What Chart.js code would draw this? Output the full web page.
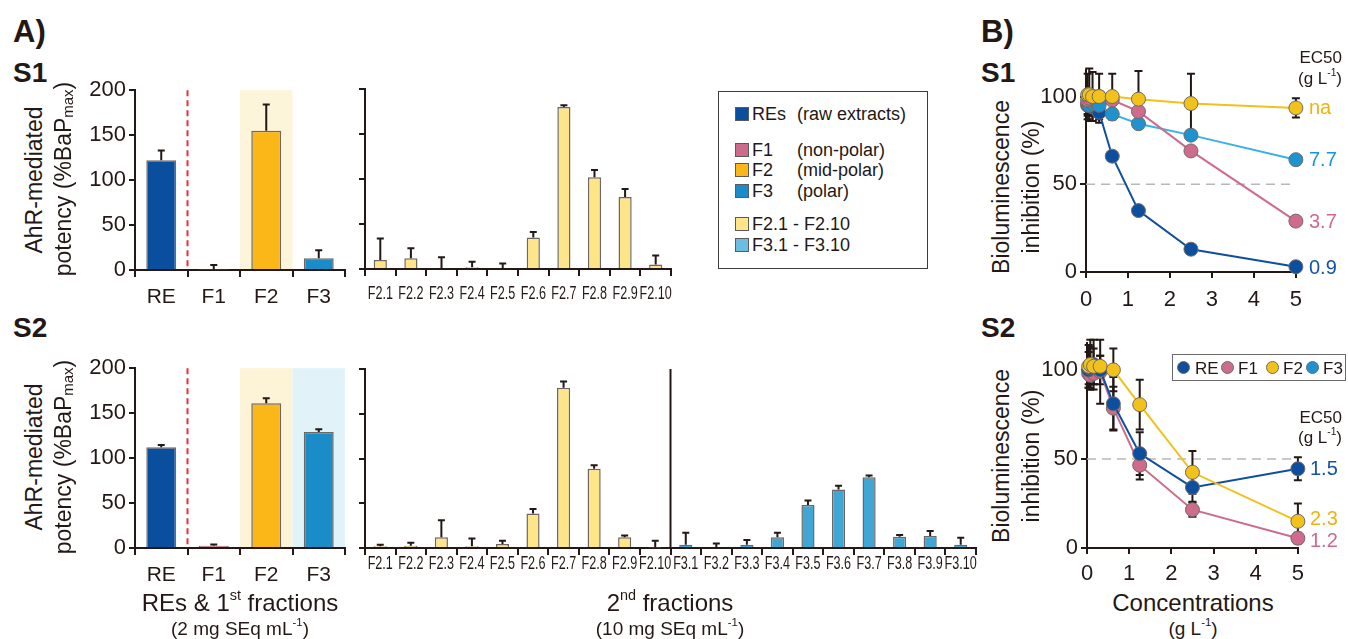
<!DOCTYPE html>
<html>
<head>
<meta charset="utf-8">
<script src="https://cdn.jsdelivr.net/npm/chart.js@4.4.1/dist/chart.umd.min.js"></script>
<style>
  body { margin: 0; width: 1348px; height: 639px; background: #fff; position: relative; overflow: hidden;
         font-family: "Liberation Sans", Arial, sans-serif; color: #231815; }
  canvas { position: absolute; }
  .t { position: absolute; white-space: nowrap; line-height: 1; }
  .b { font-weight: bold; }
  .r { position: absolute; white-space: nowrap; line-height: 1; transform: translate(-50%, -50%) rotate(-90deg); }
  .c { position: absolute; white-space: nowrap; line-height: 1; transform: translate(-50%, -50%); }
  .l { position: absolute; white-space: nowrap; line-height: 1; transform: translateY(-50%); }
  .rr { position: absolute; white-space: nowrap; line-height: 1; transform: translateY(-50%); text-align: right; }
  .sw { position: absolute; width: 14px; height: 14px; box-sizing: border-box; border: 1px solid #5a5a5a; }
  .dot { position: absolute; width: 13px; height: 13px; box-sizing: border-box; border: 1px solid #6a6a6a; border-radius: 50%; }
  sup { font-size: 0.6em; line-height: 0; vertical-align: 0.75em; }
  sub { font-size: 0.65em; line-height: 0; vertical-align: -0.2em; }
</style>
</head>
<body>

<canvas id="s1First" width="290" height="236" style="left:60px;top:74px"></canvas>
<canvas id="s1Second" width="321" height="230" style="left:355px;top:79px"></canvas>
<canvas id="s2First" width="290" height="236" style="left:60px;top:352px"></canvas>
<canvas id="s2Second" width="626" height="229" style="left:355px;top:359px"></canvas>
<canvas id="s1Curve" width="281" height="258" style="left:1030px;top:54px"></canvas>
<canvas id="s2Curve" width="280" height="261" style="left:1031px;top:327px"></canvas>

<!-- panel letters -->
<div class="t b" style="left:13px;top:16px;font-size:31px">A)</div>
<div class="t b" style="left:13px;top:59px;font-size:28px">S1</div>
<div class="t b" style="left:13px;top:314px;font-size:28px">S2</div>
<div class="t b" style="left:981px;top:16px;font-size:31px">B)</div>
<div class="t b" style="left:981px;top:59px;font-size:28px">S1</div>
<div class="t b" style="left:981px;top:314px;font-size:28px">S2</div>

<!-- axis titles A -->
<div class="r" style="left:34px;top:180px;font-size:23px">AhR-mediated</div>
<div class="r" style="left:63px;top:179px;font-size:23px">potency (%BaP<sub>max</sub>)</div>
<div class="r" style="left:34px;top:457px;font-size:23px">AhR-mediated</div>
<div class="r" style="left:63px;top:457px;font-size:23px">potency (%BaP<sub>max</sub>)</div>
<div class="c" style="left:240px;top:603px;font-size:24px">REs &amp; 1<sup>st</sup> fractions</div>
<div class="c" style="left:240px;top:628px;font-size:19px">(2 mg SEq mL<sup>-1</sup>)</div>
<div class="c" style="left:670px;top:603px;font-size:24px">2<sup>nd</sup> fractions</div>
<div class="c" style="left:670px;top:628px;font-size:19px">(10 mg SEq mL<sup>-1</sup>)</div>

<!-- legend A -->
<div style="position:absolute;left:718px;top:91px;width:208px;height:176px;border:1px solid #3c3c3c"></div>
<div class="sw" style="left:735px;top:107px;background:#0a4e9e"></div>
<div class="l" style="left:752px;top:114px;font-size:18px">REs</div>
<div class="l" style="left:797px;top:114px;font-size:18px">(raw extracts)</div>
<div class="sw" style="left:735px;top:143px;background:#cc6b8c"></div>
<div class="l" style="left:752px;top:150px;font-size:18px">F1</div>
<div class="l" style="left:797px;top:150px;font-size:18px">(non-polar)</div>
<div class="sw" style="left:735px;top:163px;background:#fbb617"></div>
<div class="l" style="left:752px;top:170px;font-size:18px">F2</div>
<div class="l" style="left:797px;top:170px;font-size:18px">(mid-polar)</div>
<div class="sw" style="left:735px;top:184px;background:#1a8cc7"></div>
<div class="l" style="left:752px;top:191px;font-size:18px">F3</div>
<div class="l" style="left:797px;top:191px;font-size:18px">(polar)</div>
<div class="sw" style="left:735px;top:217px;background:#fee587"></div>
<div class="l" style="left:752px;top:224px;font-size:18px">F2.1 - F2.10</div>
<div class="sw" style="left:735px;top:238px;background:#6cbde0"></div>
<div class="l" style="left:752px;top:245px;font-size:18px">F3.1 - F3.10</div>

<!-- axis titles B -->
<div class="r" style="left:1001px;top:187px;font-size:23px">Bioluminescence</div>
<div class="r" style="left:1031px;top:187px;font-size:23px">inhibition (%)</div>
<div class="r" style="left:1001px;top:456px;font-size:23px">Bioluminescence</div>
<div class="r" style="left:1031px;top:456px;font-size:23px">inhibition (%)</div>
<div class="c" style="left:1193px;top:603px;font-size:24px">Concentrations</div>
<div class="c" style="left:1193px;top:628px;font-size:19px">(g L<sup>-1</sup>)</div>

<!-- EC50 labels -->
<div class="rr" style="right:6px;top:57px;font-size:17px">EC50</div>
<div class="rr" style="right:6px;top:78px;font-size:17px">(g L<sup>-1</sup>)</div>
<div class="l" style="left:1309px;top:107px;font-size:20px;color:#efb30c">na</div>
<div class="l" style="left:1309px;top:159px;font-size:20px;color:#1b95d0">7.7</div>
<div class="l" style="left:1309px;top:221px;font-size:20px;color:#cf6a8c">3.7</div>
<div class="l" style="left:1309px;top:267px;font-size:20px;color:#1553a5">0.9</div>
<div class="rr" style="right:6px;top:417px;font-size:17px">EC50</div>
<div class="rr" style="right:6px;top:437px;font-size:17px">(g L<sup>-1</sup>)</div>
<div class="l" style="left:1310px;top:468px;font-size:20px;color:#1553a5">1.5</div>
<div class="l" style="left:1310px;top:518px;font-size:20px;color:#efb30c">2.3</div>
<div class="l" style="left:1310px;top:540px;font-size:20px;color:#cf6a8c">1.2</div>

<!-- legend B S2 -->
<div style="position:absolute;left:1172px;top:354px;width:172px;height:25px;border:1.5px solid #6a6a6a"></div>
<div class="dot" style="left:1177px;top:361px;background:#0d4f9f"></div>
<div class="l" style="left:1195px;top:368px;font-size:17px">RE</div>
<div class="dot" style="left:1221px;top:361px;background:#cf6b8c"></div>
<div class="l" style="left:1238px;top:368px;font-size:17px">F1</div>
<div class="dot" style="left:1266px;top:361px;background:#f3c21a"></div>
<div class="l" style="left:1283px;top:368px;font-size:17px">F2</div>
<div class="dot" style="left:1306px;top:361px;background:#1e93cf"></div>
<div class="l" style="left:1323px;top:368px;font-size:17px">F3</div>

<script>
// ---- A) AhR-mediated potency (%BaPmax) ----
const firstLabels = ['RE', 'F1', 'F2', 'F3'];
const s1FirstValues = [122, 0.5, 155, 13];
const s1FirstErrors = [11, 5, 29, 9];
const s2FirstValues = [112, 2.5, 161, 129];
const s2FirstErrors = [2.5, 1.5, 5.5, 3];

const f2Labels = ['F2.1', 'F2.2', 'F2.3', 'F2.4', 'F2.5', 'F2.6', 'F2.7', 'F2.8', 'F2.9', 'F2.10'];
const f3Labels = ['F3.1', 'F3.2', 'F3.3', 'F3.4', 'F3.5', 'F3.6', 'F3.7', 'F3.8', 'F3.9', 'F3.10'];
const s1F2Values = [10, 12, 1, 2, 1, 35, 180, 102, 80, 5];
const s1F2Errors = [24, 11, 12, 6, 5, 6, 2, 8, 9, 10];
const s2F2Values = [2, 2.5, 12, 2, 4.5, 38.5, 179, 88.5, 12, 0.5];
const s2F2Errors = [1.5, 3.5, 19, 8.5, 3.5, 5, 7, 4, 2, 7.5];
const s2F3Values = [3.5, 1, 3.5, 12, 48, 65.5, 79, 12.5, 13.5, 3.5];
const s2F3Errors = [13.5, 4, 5.5, 5, 5, 4, 2, 2, 5.5, 8];

// ---- B) bioluminescence inhibition (%) vs concentration (g/L) ----
const concentrations = [0.039, 0.078, 0.156, 0.3125, 0.625, 1.25, 2.5, 5];
const s1ReCurve = [95, 96, 94, 91, 66, 35, 13, 3];
const s1ReErr = [8, 6, 8, 6, 0, 0, 0, 0];
const s1F1Curve = [98, 99, 100, 100, 98, 91.5, 69, 29];
const s1F1Err = [0, 0, 0, 0, 0, 0, 0, 0];
const s1F2Curve = [101, 101, 100, 100, 100, 98.5, 96, 93.5];
const s1F2Err = [12, 15, 14, 13, 13, 16, 17, 5.5];
const s1F3Curve = [96, 95, 96, 95, 90, 84.5, 78, 64];
const s1F3Err = [6, 6, 6, 0, 3, 0, 0, 0];

const s2ReCurve = [100, 101, 103, 100, 81, 53, 34, 44.5];
const s2ReErr = [10, 12, 14, 8, 15, 12, 8, 6.5];
const s2F1Curve = [98, 97, 98, 99, 78.5, 46.5, 21.5, 5.5];
const s2F1Err = [6, 5, 6, 18, 12, 8, 4, 3];
const s2F2Curve = [102, 103, 102, 102, 100, 80.5, 42.5, 15];
const s2F2Err = [12, 14, 10, 6, 12, 14, 12, 10];

const ink = '#231815';
const colRE = '#0a4e9e', colF1 = '#cc6b8c', colF2 = '#fbb617', colF3 = '#1a8cc7';
const colF2x = '#fee587', colF3x = '#3fa6d5';

Chart.defaults.font.family = '"Liberation Sans", Arial, sans-serif';
Chart.defaults.color = ink;
Chart.defaults.animation = false;

// shaded category backgrounds + vertical separators
const bandsPlugin = {
  id: 'bands',
  beforeDraw(chart, args, opts) {
    const { ctx, chartArea } = chart;
    const x = chart.scales.x;
    const step = x.width / chart.data.labels.length;
    (opts.items || []).forEach(b => {
      const cx = x.getPixelForValue(b.index);
      ctx.fillStyle = b.color;
      ctx.fillRect(cx - step / 2, chartArea.top, step, chartArea.bottom - chartArea.top);
    });
  },
  beforeDatasetsDraw(chart, args, opts) {
    const { ctx, chartArea } = chart;
    const x = chart.scales.x;
    const step = x.width / chart.data.labels.length;
    (opts.dividers || []).forEach(d => {
      const px = x.getPixelForValue(d.after) + step / 2;
      ctx.save();
      ctx.strokeStyle = d.color;
      ctx.lineWidth = d.width;
      ctx.setLineDash(d.dash || []);
      ctx.beginPath();
      ctx.moveTo(px, chartArea.top);
      ctx.lineTo(px, chartArea.bottom);
      ctx.stroke();
      ctx.restore();
    });
  }
};

// condensed category labels (F2.1 ... F3.10), squeezed like the original
const narrowLabelsPlugin = {
  id: 'narrowLabels',
  afterDraw(chart, args, opts) {
    if (!opts.offset) return;
    const { ctx, chartArea } = chart;
    const x = chart.scales.x;
    ctx.save();
    ctx.fillStyle = ink;
    ctx.font = '17.5px "Liberation Sans", Arial, sans-serif';
    ctx.textAlign = 'center';
    ctx.textBaseline = 'middle';
    chart.data.labels.forEach((lab, i) => {
      ctx.save();
      ctx.translate(x.getPixelForValue(i), chartArea.bottom + opts.offset);
      ctx.scale(0.72, 1);
      ctx.fillText(lab, 0, 0);
      ctx.restore();
    });
    ctx.restore();
  }
};

function drawErrors(chart, cap, upOnly) {
  const { ctx } = chart;
  const y = chart.scales.y;
  ctx.save();
  ctx.strokeStyle = ink;
  ctx.lineWidth = 2;
  chart.data.datasets.forEach((ds, di) => {
    if (!ds.errors) return;
    chart.getDatasetMeta(di).data.forEach((el, i) => {
      const e = ds.errors[i];
      if (!e) return;
      const raw = ds.data[i];
      const v = typeof raw === 'object' ? raw.y : raw;
      const top = y.getPixelForValue(v + e);
      const bot = upOnly ? y.getPixelForValue(v) : y.getPixelForValue(v - e);
      ctx.beginPath();
      ctx.moveTo(el.x, bot);
      ctx.lineTo(el.x, top);
      ctx.moveTo(el.x - cap, top);
      ctx.lineTo(el.x + cap, top);
      if (!upOnly) {
        ctx.moveTo(el.x - cap, bot);
        ctx.lineTo(el.x + cap, bot);
      }
      ctx.stroke();
    });
  });
  ctx.restore();
}

const barErrorsPlugin = {
  id: 'barErrors',
  afterDatasetsDraw(chart) { drawErrors(chart, 3.5, true); }
};

const curveErrorsPlugin = {
  id: 'curveErrors',
  beforeDatasetsDraw(chart) {
    const { ctx } = chart;
    const x = chart.scales.x, y = chart.scales.y;
    // EC50 reference at 50 %
    ctx.save();
    ctx.strokeStyle = '#b8b8b8';
    ctx.lineWidth = 1.5;
    ctx.setLineDash([9, 6]);
    ctx.beginPath();
    ctx.moveTo(x.getPixelForValue(0), y.getPixelForValue(50));
    ctx.lineTo(x.getPixelForValue(5), y.getPixelForValue(50));
    ctx.stroke();
    ctx.restore();
    drawErrors(chart, 4, false);
  }
};

const axisLine = { color: ink, width: 2 };

function barChart(id, labels, values, errors, colors, opts) {
  return new Chart(document.getElementById(id), {
    type: 'bar',
    data: {
      labels: labels,
      datasets: [{
        data: values,
        errors: errors,
        backgroundColor: colors,
        borderColor: '#6e6764',
        borderWidth: 1.5,
        barPercentage: opts.barPct,
        categoryPercentage: 1
      }]
    },
    options: {
      responsive: false,
      layout: { padding: { top: 10, right: 5, left: 0, bottom: 0 } },
      scales: {
        x: {
          grid: { offset: true, drawOnChartArea: false, color: ink, lineWidth: 2, tickLength: 7 },
          border: axisLine,
          ticks: { display: !opts.narrow, font: { size: 21 }, color: ink, maxRotation: 0, autoSkip: false, padding: 8 },
          afterFit: s => { s.height = 40; }
        },
        y: {
          min: 0, max: 200,
          grid: { drawOnChartArea: false, color: ink, lineWidth: 2, tickLength: 6 },
          border: axisLine,
          ticks: { display: opts.yLabels, stepSize: 50, font: { size: 22 }, color: ink, padding: 3 },
          afterFit: s => { s.width = opts.yLabels ? 75 : 10; }
        }
      },
      plugins: {
        legend: { display: false },
        tooltip: { enabled: false },
        bands: { items: opts.bands || [], dividers: opts.dividers || [] },
        narrowLabels: { offset: opts.narrow || 0 }
      }
    },
    plugins: [bandsPlugin, barErrorsPlugin, narrowLabelsPlugin]
  });
}

const redDash = { after: 0, color: '#e2323a', width: 2, dash: [6, 4] };

barChart('s1First', firstLabels, s1FirstValues, s1FirstErrors, [colRE, colF1, colF2, colF3], {
  barPct: 0.57, yLabels: true,
  bands: [{ index: 2, color: '#fdf5da' }], dividers: [redDash]
});
barChart('s2First', firstLabels, s2FirstValues, s2FirstErrors, [colRE, colF1, colF2, colF3], {
  barPct: 0.57, yLabels: true,
  bands: [{ index: 2, color: '#fdf3d6' }, { index: 3, color: '#e1f2f8' }], dividers: [redDash]
});
barChart('s1Second', f2Labels, s1F2Values, s1F2Errors, f2Labels.map(() => colF2x), {
  barPct: 0.43, yLabels: false, narrow: 25
});
barChart('s2Second', f2Labels.concat(f3Labels), s2F2Values.concat(s2F3Values), s2F2Errors.concat(s2F3Errors),
  f2Labels.map(() => colF2x).concat(f3Labels.map(() => colF3x)), {
  barPct: 0.43, yLabels: false, narrow: 16,
  dividers: [{ after: 9, color: ink, width: 2 }]
});

function curve(values, errors, line, fill) {
  return {
    data: concentrations.map((c, i) => ({ x: c, y: values[i] })),
    errors: errors,
    showLine: true,
    borderColor: line,
    borderWidth: 2,
    pointRadius: 7,
    pointBackgroundColor: fill,
    pointBorderColor: '#6f6a68',
    pointBorderWidth: 1,
    clip: false
  };
}

function curveChart(id, datasets, xPad) {
  return new Chart(document.getElementById(id), {
    type: 'scatter',
    data: { datasets: datasets },
    options: {
      responsive: false,
      layout: { padding: { top: 10, right: 10, left: 0, bottom: 0 } },
      scales: {
        x: {
          type: 'linear', min: 0, max: 5,
          grid: { drawOnChartArea: false, color: ink, lineWidth: 2, tickLength: 6 },
          border: axisLine,
          ticks: { stepSize: 1, font: { size: 22 }, color: ink, padding: xPad },
          afterFit: s => { s.height = 40; }
        },
        y: {
          min: 0, max: 115,
          afterBuildTicks: s => { s.ticks = [0, 50, 100].map(v => ({ value: v })); },
          grid: { drawOnChartArea: false, color: ink, lineWidth: 2, tickLength: 6 },
          border: axisLine,
          ticks: { font: { size: 22 }, color: ink, padding: 3 },
          afterFit: s => { s.width = 56; }
        }
      },
      plugins: { legend: { display: false }, tooltip: { enabled: false } }
    },
    plugins: [curveErrorsPlugin]
  });
}

// dataset 0 is drawn on top
curveChart('s1Curve', [
  curve(s1F2Curve, s1F2Err, '#f2c01a', '#f3c21a'),
  curve(s1F1Curve, s1F1Err, '#cd6b8b', '#cf6b8c'),
  curve(s1F3Curve, s1F3Err, '#38b2e6', '#1e93cf'),
  curve(s1ReCurve, s1ReErr, '#0f4f9e', '#0d4f9f')
], 9);
curveChart('s2Curve', [
  curve(s2F2Curve, s2F2Err, '#f2c01a', '#f3c21a'),
  curve(s2ReCurve, s2ReErr, '#0f4f9e', '#0d4f9f'),
  curve(s2F1Curve, s2F1Err, '#cd6b8b', '#cf6b8c')
], 7);
</script>
</body>
</html>
